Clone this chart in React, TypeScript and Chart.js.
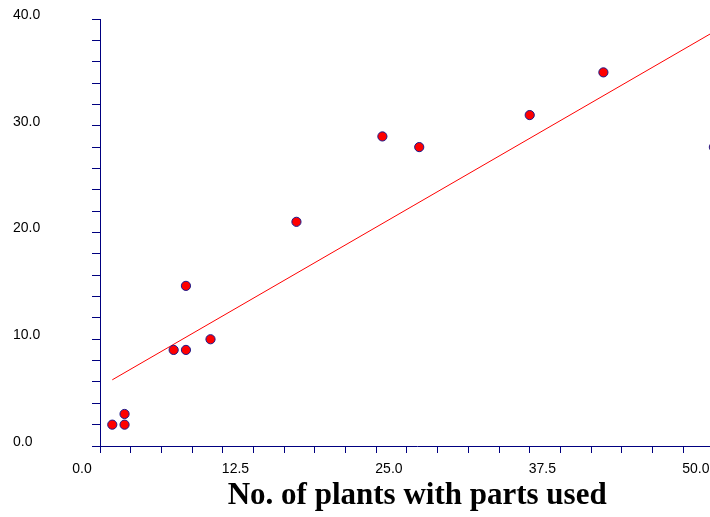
import React, { useEffect, useRef } from "react";
import { Chart, registerables } from "chart.js";

Chart.register(...registerables);

// Data
const plantsX = [1, 2, 2, 6, 7, 7, 9, 16, 23, 26, 35, 41, 50];
const usesY = [2, 2, 3, 9, 9, 15, 10, 21, 29, 28, 31, 35, 28];
// Fitted line endpoints
const fitX = [1, 50];
const fitY = [6.2, 38.8];
// Tick labels
const xTickLabels = [0, 12.5, 25, 37.5, 50];
const yTickLabels = [0, 10, 20, 30, 40];
const xTitle = "No. of plants with parts used";

const AXIS = "#000080";
const tickFont = { family: '"Liberation Sans", Arial, sans-serif', size: 14 };

const hasLabel = (list: number[], v: number) => list.some((t) => Math.abs(t - v) < 1e-6);

export default function App() {
  const ref = useRef<HTMLCanvasElement>(null);
  useEffect(() => {
    const chart = new Chart(ref.current as HTMLCanvasElement, {
      type: "scatter",
      data: {
        datasets: [
          {
            type: "line",
            data: fitX.map((x, i) => ({ x, y: fitY[i] })),
            borderColor: "#ff0000",
            borderWidth: 1,
            pointRadius: 0,
            fill: false,
            showLine: true,
            order: 2,
          } as any,
          {
            type: "scatter",
            data: plantsX.map((x, i) => ({ x, y: usesY[i] })),
            backgroundColor: "#ff0000",
            borderColor: "#1a1a8c",
            borderWidth: 1,
            pointRadius: 4.6,
            order: 1,
          },
        ],
      },
      options: {
        responsive: false,
        animation: false,
        devicePixelRatio: 1,
        layout: { padding: { top: 19, left: 13, right: 0, bottom: 0 } },
        plugins: { legend: { display: false }, tooltip: { enabled: false } },
        scales: {
          x: {
            type: "linear",
            min: 0,
            max: 51.67,
            afterFit: (s: any) => {
              s.height = 71;
            },
            ticks: {
              stepSize: 2.5,
              includeBounds: false,
              autoSkip: false,
              maxRotation: 0,
              labelOffset: -18,
              padding: 8,
              color: "#000",
              font: tickFont,
              callback: (v: any) => (hasLabel(xTickLabels, Number(v)) ? Number(v).toFixed(1) : ""),
            },
            grid: { drawOnChartArea: false, drawTicks: true, tickLength: 7, color: AXIS, lineWidth: 1 },
            border: { display: true, color: AXIS, width: 1 },
            title: {
              display: true,
              text: xTitle,
              color: "#000",
              font: { family: '"Liberation Serif", "Times New Roman", serif', size: 31, weight: "bold" },
              padding: { top: 0, bottom: 2 },
            },
          },
          y: {
            type: "linear",
            min: 0,
            max: 40,
            afterFit: (s: any) => {
              s.width = 87;
            },
            ticks: {
              stepSize: 2,
              autoSkip: false,
              labelOffset: -4,
              padding: 2,
              crossAlign: "far",
              color: "#000",
              font: tickFont,
              callback: (v: any) => (hasLabel(yTickLabels, Number(v)) ? Number(v).toFixed(1) : ""),
            },
            grid: { drawOnChartArea: false, drawTicks: true, tickLength: 8, color: AXIS, lineWidth: 1 },
            border: { display: true, color: AXIS, width: 1 },
          },
        },
      } as any,
    });
    return () => chart.destroy();
  }, []);
  return (
    <div
      style={{
        position: "fixed",
        left: 0,
        top: 0,
        width: 710,
        height: 517,
        overflow: "hidden",
        background: "#fff",
      }}
    >
      <canvas ref={ref} width={740} height={517} style={{ display: "block" }} />
    </div>
  );
}
